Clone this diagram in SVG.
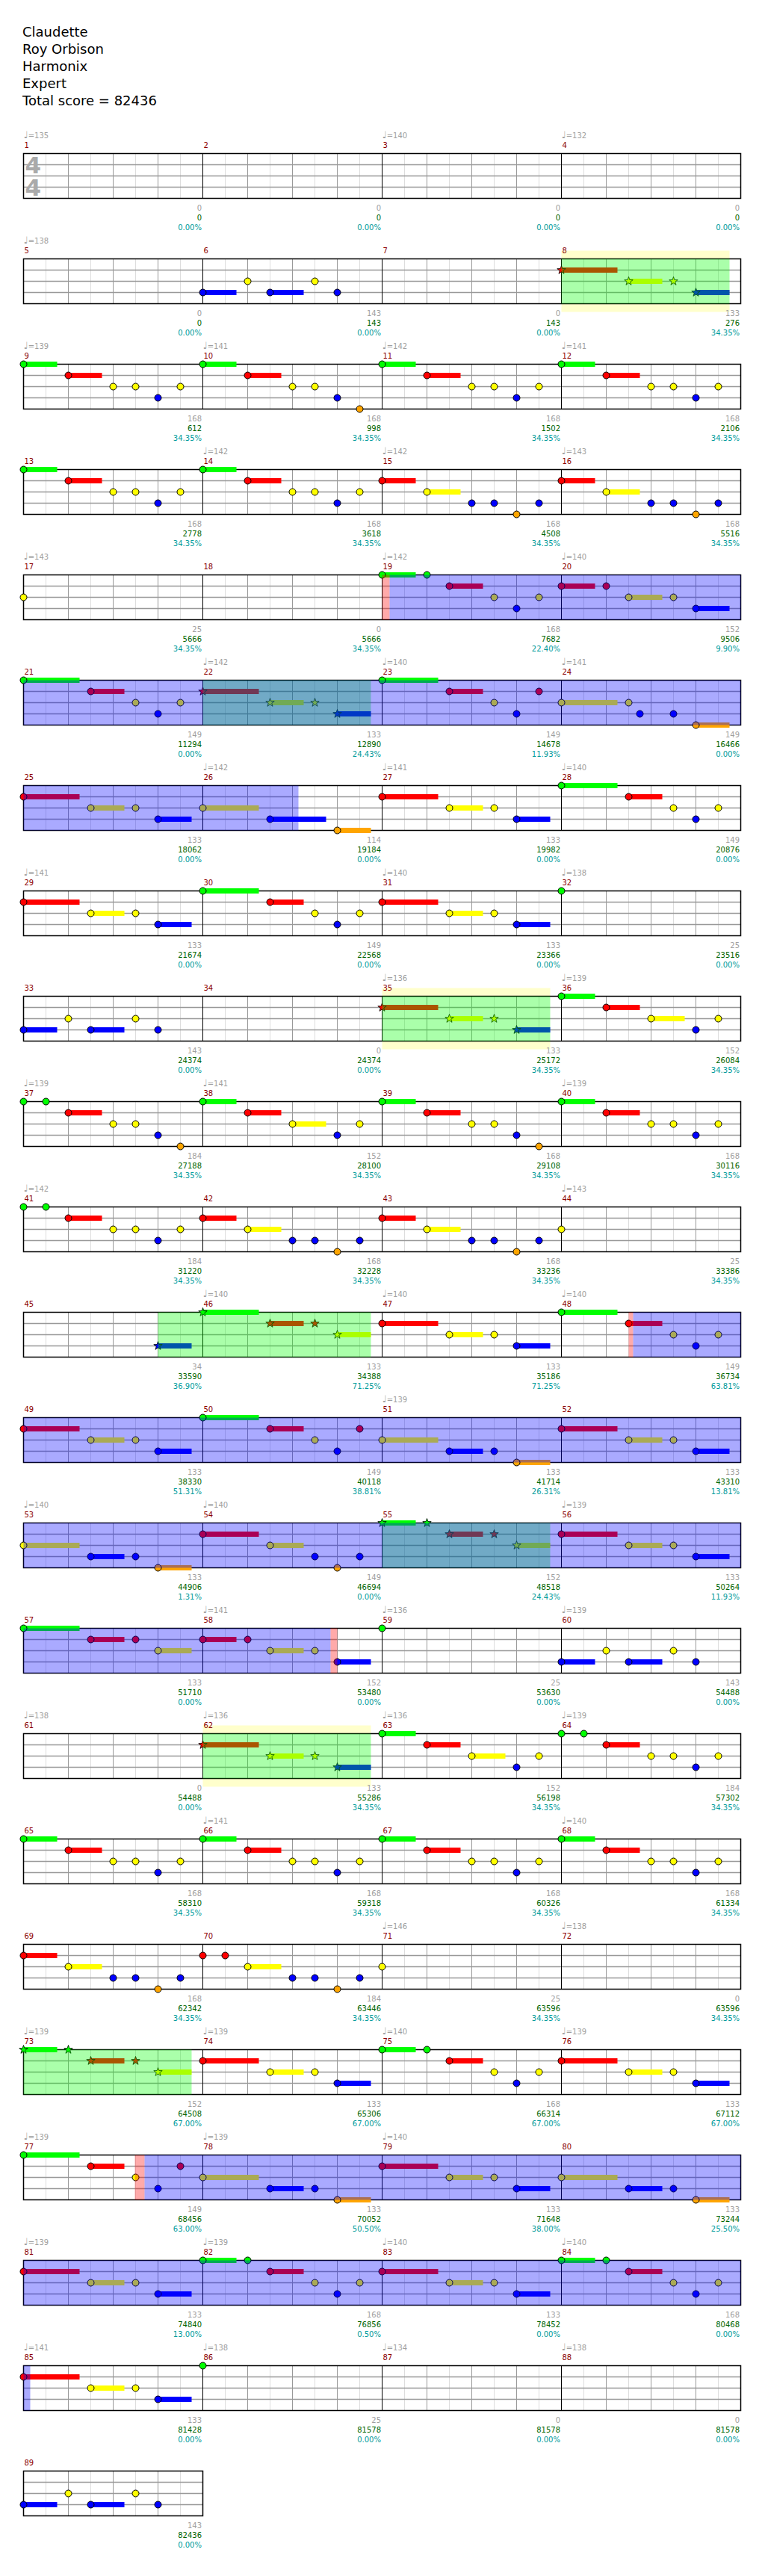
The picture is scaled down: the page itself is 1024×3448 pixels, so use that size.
<svg xmlns="http://www.w3.org/2000/svg" width="1024" height="3448" viewBox="0 0 1024 3448">
<style>
text{font-family:"DejaVu Sans","Liberation Sans",sans-serif}
.ti{font-size:18px;fill:#000}
.tp{font-size:10px;fill:#a0a0a0}
.q{font-size:13px}
.mn{font-size:10px;fill:#8b0000}
.a,.b,.c{font-size:10px;text-anchor:end}
.a{fill:#a0a0a0}.b{fill:#006400}.c{fill:#009b9b}
.ts{font-size:31px;font-weight:bold;fill:#aaa}
.G{fill:#00ff00}.R{fill:#ff0000}.Y{fill:#ffff00}.B{fill:#0000ff}.O{fill:#ffa500}
.ob{fill:#0000ff;fill-opacity:.333}.og{fill:#00ff00;fill-opacity:.333}.or{fill:#ff0000;fill-opacity:.333}
.band{fill:#ffffcc}
</style>
<defs>
<circle id="h" r="4.5" stroke="#000" stroke-width="1"/>
<polygon id="s" points="0,-6 1.41,-1.94 5.71,-1.85 2.28,0.74 3.53,4.85 0,2.4 -3.53,4.85 -2.28,0.74 -5.71,-1.85 -1.41,-1.94" stroke="#000" stroke-width="0.8"/>
<g id="st4">
<rect width="960" height="60" fill="#fff"/>
<path d="M30 0V60M90 0V60M150 0V60M210 0V60M270 0V60M330 0V60M390 0V60M450 0V60M510 0V60M570 0V60M630 0V60M690 0V60M750 0V60M810 0V60M870 0V60M930 0V60" stroke="#ddd"/>
<path d="M60 0V60M120 0V60M180 0V60M300 0V60M360 0V60M420 0V60M540 0V60M600 0V60M660 0V60M780 0V60M840 0V60M900 0V60" stroke="#999"/>
<path d="M0 15H960M0 30H960M0 45H960" stroke="#999" stroke-width="1.5"/>
<path d="M240 0V60M480 0V60M720 0V60" stroke="#000"/>
<rect width="960" height="60" fill="none" stroke="#000" stroke-width="1.5"/>
</g>
<g id="st1">
<rect width="240" height="60" fill="#fff"/>
<path d="M30 0V60M90 0V60M150 0V60M210 0V60" stroke="#ddd"/>
<path d="M60 0V60M120 0V60M180 0V60" stroke="#999"/>
<path d="M0 15H240M0 30H240M0 45H240" stroke="#999" stroke-width="1.5"/>
<rect width="240" height="60" fill="none" stroke="#000" stroke-width="1.5"/>
</g>
<g id="pA"><rect class="G" y="-3.5" width="45" height="7"/><rect class="R" x="60" y="11.5" width="45" height="7"/><use href="#h" class="G"/><use href="#h" class="R" x="60" y="15"/><use href="#h" class="Y" x="120" y="30"/><use href="#h" class="Y" x="150" y="30"/><use href="#h" class="B" x="180" y="45"/><use href="#h" class="Y" x="210" y="30"/></g>
<g id="pB"><rect class="G" y="-3.5" width="45" height="7"/><rect class="R" x="60" y="11.5" width="45" height="7"/><use href="#h" class="G"/><use href="#h" class="R" x="60" y="15"/><use href="#h" class="Y" x="120" y="30"/><use href="#h" class="Y" x="150" y="30"/><use href="#h" class="B" x="180" y="45"/><use href="#h" class="O" x="210" y="60"/></g>
<g id="pC"><rect class="R" y="11.5" width="45" height="7"/><rect class="Y" x="60" y="26.5" width="45" height="7"/><use href="#h" class="R" y="15"/><use href="#h" class="Y" x="60" y="30"/><use href="#h" class="B" x="120" y="45"/><use href="#h" class="B" x="150" y="45"/><use href="#h" class="O" x="180" y="60"/><use href="#h" class="B" x="210" y="45"/></g>
<g id="pD"><rect class="R" x="60" y="11.5" width="45" height="7"/><use href="#h" class="G"/><use href="#h" class="G" x="30"/><use href="#h" class="R" x="60" y="15"/><use href="#h" class="Y" x="120" y="30"/><use href="#h" class="Y" x="150" y="30"/><use href="#h" class="B" x="180" y="45"/><use href="#h" class="Y" x="210" y="30"/></g>
<g id="pD2"><rect class="R" x="60" y="11.5" width="45" height="7"/><use href="#h" class="G"/><use href="#h" class="G" x="30"/><use href="#h" class="R" x="60" y="15"/><use href="#h" class="Y" x="120" y="30"/><use href="#h" class="Y" x="150" y="30"/><use href="#h" class="B" x="180" y="45"/><use href="#h" class="O" x="210" y="60"/></g>
<g id="pE"><rect class="R" y="11.5" width="75" height="7"/><rect class="Y" x="90" y="26.5" width="45" height="7"/><rect class="B" x="180" y="41.5" width="45" height="7"/><use href="#h" class="R" y="15"/><use href="#h" class="Y" x="90" y="30"/><use href="#h" class="Y" x="150" y="30"/><use href="#h" class="B" x="180" y="45"/></g>
<g id="pF"><rect class="G" y="-3.5" width="75" height="7"/><rect class="R" x="90" y="11.5" width="45" height="7"/><use href="#h" class="G"/><use href="#h" class="R" x="90" y="15"/><use href="#h" class="Y" x="150" y="30"/><use href="#h" class="B" x="180" y="45"/><use href="#h" class="Y" x="210" y="30"/></g>
<g id="pF2"><rect class="G" y="-3.5" width="75" height="7"/><rect class="R" x="90" y="11.5" width="45" height="7"/><use href="#h" class="G"/><use href="#h" class="R" x="90" y="15"/><use href="#h" class="Y" x="150" y="30"/><use href="#h" class="B" x="180" y="45"/><use href="#h" class="R" x="210" y="15"/></g>
<g id="pH"><rect class="Y" y="26.5" width="75" height="7"/><rect class="B" x="90" y="41.5" width="45" height="7"/><rect class="O" x="180" y="56.5" width="45" height="7"/><use href="#h" class="Y" y="30"/><use href="#h" class="B" x="90" y="45"/><use href="#h" class="B" x="150" y="45"/><use href="#h" class="O" x="180" y="60"/></g>
<g id="pJ"><rect class="G" y="-3.5" width="45" height="7"/><rect class="R" x="90" y="11.5" width="45" height="7"/><use href="#h" class="G"/><use href="#h" class="G" x="60"/><use href="#h" class="R" x="90" y="15"/><use href="#h" class="Y" x="150" y="30"/><use href="#h" class="B" x="180" y="45"/><use href="#h" class="Y" x="210" y="30"/></g>
<g id="pL"><rect class="R" y="11.5" width="45" height="7"/><rect class="Y" x="90" y="26.5" width="45" height="7"/><rect class="B" x="180" y="41.5" width="45" height="7"/><use href="#h" class="R" y="15"/><use href="#h" class="R" x="60" y="15"/><use href="#h" class="Y" x="90" y="30"/><use href="#h" class="Y" x="150" y="30"/><use href="#h" class="B" x="180" y="45"/></g>
<g id="pM"><rect class="B" y="41.5" width="45" height="7"/><rect class="B" x="90" y="41.5" width="45" height="7"/><use href="#h" class="B" y="45"/><use href="#h" class="Y" x="60" y="30"/><use href="#h" class="B" x="90" y="45"/><use href="#h" class="Y" x="150" y="30"/><use href="#h" class="B" x="180" y="45"/></g>
<g id="pN"><rect class="G" y="-3.5" width="45" height="7"/><rect class="R" x="60" y="11.5" width="45" height="7"/><rect class="Y" x="120" y="26.5" width="45" height="7"/><use href="#h" class="G"/><use href="#h" class="R" x="60" y="15"/><use href="#h" class="Y" x="120" y="30"/><use href="#h" class="B" x="180" y="45"/><use href="#h" class="Y" x="210" y="30"/></g>
<g id="pS1"><rect class="R" y="11.5" width="75" height="7"/><rect class="Y" x="90" y="26.5" width="45" height="7"/><rect class="B" x="180" y="41.5" width="45" height="7"/><use href="#s" class="R" y="15"/><use href="#s" class="Y" x="90" y="30"/><use href="#s" class="Y" x="150" y="30"/><use href="#s" class="B" x="180" y="45"/></g>
<g id="pS2"><rect class="G" y="-3.5" width="45" height="7"/><rect class="R" x="90" y="11.5" width="45" height="7"/><rect class="Y" x="180" y="26.5" width="45" height="7"/><use href="#s" class="G"/><use href="#s" class="G" x="60"/><use href="#s" class="R" x="90" y="15"/><use href="#s" class="R" x="150" y="15"/><use href="#s" class="Y" x="180" y="30"/></g>
</defs>
<rect width="1024" height="3448" fill="#fff"/>
<g id="title">
<text class="ti" x="30" y="49">Claudette</text>
<text class="ti" x="30" y="72">Roy Orbison</text>
<text class="ti" x="30" y="95">Harmonix</text>
<text class="ti" x="30" y="118">Expert</text>
<text class="ti" x="30" y="141">Total score = 82436</text>
</g>

<g id="row1" transform="translate(0,205.5)">
<use href="#st4" x="31.5"/>
<g id="m1" transform="translate(31.5,0)"><text class="tp" y="-20.5"><tspan class="q">♩</tspan>=135</text><text class="mn" x="1" y="-8">1</text><text class="ts" x="2" y="26.5">4</text><text class="ts" x="2" y="56.5">4</text><text class="a" x="238.5" y="76.5">0</text><text class="b" x="238.5" y="89.5">0</text><text class="c" x="238.5" y="102.5">0.00%</text></g>
<g id="m2" transform="translate(271.5,0)"><text class="mn" x="1" y="-8">2</text><text class="a" x="238.5" y="76.5">0</text><text class="b" x="238.5" y="89.5">0</text><text class="c" x="238.5" y="102.5">0.00%</text></g>
<g id="m3" transform="translate(511.5,0)"><text class="tp" y="-20.5"><tspan class="q">♩</tspan>=140</text><text class="mn" x="1" y="-8">3</text><text class="a" x="238.5" y="76.5">0</text><text class="b" x="238.5" y="89.5">0</text><text class="c" x="238.5" y="102.5">0.00%</text></g>
<g id="m4" transform="translate(751.5,0)"><text class="tp" y="-20.5"><tspan class="q">♩</tspan>=132</text><text class="mn" x="1" y="-8">4</text><text class="a" x="238.5" y="76.5">0</text><text class="b" x="238.5" y="89.5">0</text><text class="c" x="238.5" y="102.5">0.00%</text></g>
</g>

<g id="row2" transform="translate(0,346.5)">
<rect class="band" x="751.5" y="-11" width="225" height="82"/>
<use href="#st4" x="31.5"/>
<g id="m5" transform="translate(31.5,0)"><text class="tp" y="-20.5"><tspan class="q">♩</tspan>=138</text><text class="mn" x="1" y="-8">5</text><text class="a" x="238.5" y="76.5">0</text><text class="b" x="238.5" y="89.5">0</text><text class="c" x="238.5" y="102.5">0.00%</text></g>
<g id="m6" transform="translate(271.5,0)"><text class="mn" x="1" y="-8">6</text><use href="#pM"/><text class="a" x="238.5" y="76.5">143</text><text class="b" x="238.5" y="89.5">143</text><text class="c" x="238.5" y="102.5">0.00%</text></g>
<g id="m7" transform="translate(511.5,0)"><text class="mn" x="1" y="-8">7</text><text class="a" x="238.5" y="76.5">0</text><text class="b" x="238.5" y="89.5">143</text><text class="c" x="238.5" y="102.5">0.00%</text></g>
<g id="m8" transform="translate(751.5,0)"><text class="mn" x="1" y="-8">8</text><use href="#pS1"/><text class="a" x="238.5" y="76.5">133</text><text class="b" x="238.5" y="89.5">276</text><text class="c" x="238.5" y="102.5">34.35%</text></g>
<g class="ov"><rect class="og" x="751.5" width="225" height="60"/></g>
</g>

<g id="row3" transform="translate(0,487.5)">
<use href="#st4" x="31.5"/>
<g id="m9" transform="translate(31.5,0)"><text class="tp" y="-20.5"><tspan class="q">♩</tspan>=139</text><text class="mn" x="1" y="-8">9</text><use href="#pA"/><text class="a" x="238.5" y="76.5">168</text><text class="b" x="238.5" y="89.5">612</text><text class="c" x="238.5" y="102.5">34.35%</text></g>
<g id="m10" transform="translate(271.5,0)"><text class="tp" y="-20.5"><tspan class="q">♩</tspan>=141</text><text class="mn" x="1" y="-8">10</text><use href="#pB"/><text class="a" x="238.5" y="76.5">168</text><text class="b" x="238.5" y="89.5">998</text><text class="c" x="238.5" y="102.5">34.35%</text></g>
<g id="m11" transform="translate(511.5,0)"><text class="tp" y="-20.5"><tspan class="q">♩</tspan>=142</text><text class="mn" x="1" y="-8">11</text><use href="#pA"/><text class="a" x="238.5" y="76.5">168</text><text class="b" x="238.5" y="89.5">1502</text><text class="c" x="238.5" y="102.5">34.35%</text></g>
<g id="m12" transform="translate(751.5,0)"><text class="tp" y="-20.5"><tspan class="q">♩</tspan>=141</text><text class="mn" x="1" y="-8">12</text><use href="#pA"/><text class="a" x="238.5" y="76.5">168</text><text class="b" x="238.5" y="89.5">2106</text><text class="c" x="238.5" y="102.5">34.35%</text></g>
</g>

<g id="row4" transform="translate(0,628.5)">
<use href="#st4" x="31.5"/>
<g id="m13" transform="translate(31.5,0)"><text class="mn" x="1" y="-8">13</text><use href="#pA"/><text class="a" x="238.5" y="76.5">168</text><text class="b" x="238.5" y="89.5">2778</text><text class="c" x="238.5" y="102.5">34.35%</text></g>
<g id="m14" transform="translate(271.5,0)"><text class="tp" y="-20.5"><tspan class="q">♩</tspan>=142</text><text class="mn" x="1" y="-8">14</text><use href="#pA"/><text class="a" x="238.5" y="76.5">168</text><text class="b" x="238.5" y="89.5">3618</text><text class="c" x="238.5" y="102.5">34.35%</text></g>
<g id="m15" transform="translate(511.5,0)"><text class="tp" y="-20.5"><tspan class="q">♩</tspan>=142</text><text class="mn" x="1" y="-8">15</text><use href="#pC"/><text class="a" x="238.5" y="76.5">168</text><text class="b" x="238.5" y="89.5">4508</text><text class="c" x="238.5" y="102.5">34.35%</text></g>
<g id="m16" transform="translate(751.5,0)"><text class="tp" y="-20.5"><tspan class="q">♩</tspan>=143</text><text class="mn" x="1" y="-8">16</text><use href="#pC"/><text class="a" x="238.5" y="76.5">168</text><text class="b" x="238.5" y="89.5">5516</text><text class="c" x="238.5" y="102.5">34.35%</text></g>
</g>

<g id="row5" transform="translate(0,769.5)">
<use href="#st4" x="31.5"/>
<g id="m17" transform="translate(31.5,0)"><text class="tp" y="-20.5"><tspan class="q">♩</tspan>=143</text><text class="mn" x="1" y="-8">17</text><use href="#h" class="Y" y="30"/><text class="a" x="238.5" y="76.5">25</text><text class="b" x="238.5" y="89.5">5666</text><text class="c" x="238.5" y="102.5">34.35%</text></g>
<g id="m18" transform="translate(271.5,0)"><text class="mn" x="1" y="-8">18</text><text class="a" x="238.5" y="76.5">0</text><text class="b" x="238.5" y="89.5">5666</text><text class="c" x="238.5" y="102.5">34.35%</text></g>
<g id="m19" transform="translate(511.5,0)"><text class="tp" y="-20.5"><tspan class="q">♩</tspan>=142</text><text class="mn" x="1" y="-8">19</text><use href="#pJ"/><text class="a" x="238.5" y="76.5">168</text><text class="b" x="238.5" y="89.5">7682</text><text class="c" x="238.5" y="102.5">22.40%</text></g>
<g id="m20" transform="translate(751.5,0)"><text class="tp" y="-20.5"><tspan class="q">♩</tspan>=140</text><text class="mn" x="1" y="-8">20</text><use href="#pL"/><text class="a" x="238.5" y="76.5">152</text><text class="b" x="238.5" y="89.5">9506</text><text class="c" x="238.5" y="102.5">9.90%</text></g>
<g class="ov"><rect class="or" x="511.5" width="10" height="60"/><rect class="ob" x="521.5" width="470" height="60"/></g>
</g>

<g id="row6" transform="translate(0,910.5)">
<use href="#st4" x="31.5"/>
<g id="m21" transform="translate(31.5,0)"><text class="mn" x="1" y="-8">21</text><use href="#pF"/><text class="a" x="238.5" y="76.5">149</text><text class="b" x="238.5" y="89.5">11294</text><text class="c" x="238.5" y="102.5">0.00%</text></g>
<g id="m22" transform="translate(271.5,0)"><text class="tp" y="-20.5"><tspan class="q">♩</tspan>=142</text><text class="mn" x="1" y="-8">22</text><use href="#pS1"/><text class="a" x="238.5" y="76.5">133</text><text class="b" x="238.5" y="89.5">12890</text><text class="c" x="238.5" y="102.5">24.43%</text></g>
<g id="m23" transform="translate(511.5,0)"><text class="tp" y="-20.5"><tspan class="q">♩</tspan>=140</text><text class="mn" x="1" y="-8">23</text><use href="#pF2"/><text class="a" x="238.5" y="76.5">149</text><text class="b" x="238.5" y="89.5">14678</text><text class="c" x="238.5" y="102.5">11.93%</text></g>
<g id="m24" transform="translate(751.5,0)"><text class="tp" y="-20.5"><tspan class="q">♩</tspan>=141</text><text class="mn" x="1" y="-8">24</text><rect class="Y" y="26.5" width="75" height="7"/><rect class="O" x="180" y="56.5" width="45" height="7"/><use href="#h" class="Y" y="30"/><use href="#h" class="Y" x="90" y="30"/><use href="#h" class="B" x="105" y="45"/><use href="#h" class="B" x="150" y="45"/><use href="#h" class="O" x="180" y="60"/><text class="a" x="238.5" y="76.5">149</text><text class="b" x="238.5" y="89.5">16466</text><text class="c" x="238.5" y="102.5">0.00%</text></g>
<g class="ov"><rect class="og" x="271.5" width="225" height="60"/><rect class="ob" x="31.5" width="960" height="60"/></g>
</g>

<g id="row7" transform="translate(0,1051.5)">
<use href="#st4" x="31.5"/>
<g id="m25" transform="translate(31.5,0)"><text class="mn" x="1" y="-8">25</text><use href="#pE"/><text class="a" x="238.5" y="76.5">133</text><text class="b" x="238.5" y="89.5">18062</text><text class="c" x="238.5" y="102.5">0.00%</text></g>
<g id="m26" transform="translate(271.5,0)"><text class="tp" y="-20.5"><tspan class="q">♩</tspan>=142</text><text class="mn" x="1" y="-8">26</text><rect class="Y" y="26.5" width="75" height="7"/><rect class="B" x="90" y="41.5" width="75" height="7"/><rect class="O" x="180" y="56.5" width="45" height="7"/><use href="#h" class="Y" y="30"/><use href="#h" class="B" x="90" y="45"/><use href="#h" class="O" x="180" y="60"/><text class="a" x="238.5" y="76.5">114</text><text class="b" x="238.5" y="89.5">19184</text><text class="c" x="238.5" y="102.5">0.00%</text></g>
<g id="m27" transform="translate(511.5,0)"><text class="tp" y="-20.5"><tspan class="q">♩</tspan>=141</text><text class="mn" x="1" y="-8">27</text><use href="#pE"/><text class="a" x="238.5" y="76.5">133</text><text class="b" x="238.5" y="89.5">19982</text><text class="c" x="238.5" y="102.5">0.00%</text></g>
<g id="m28" transform="translate(751.5,0)"><text class="tp" y="-20.5"><tspan class="q">♩</tspan>=140</text><text class="mn" x="1" y="-8">28</text><use href="#pF"/><text class="a" x="238.5" y="76.5">149</text><text class="b" x="238.5" y="89.5">20876</text><text class="c" x="238.5" y="102.5">0.00%</text></g>
<g class="ov"><rect class="ob" x="31.5" width="368" height="60"/></g>
</g>

<g id="row8" transform="translate(0,1192.5)">
<use href="#st4" x="31.5"/>
<g id="m29" transform="translate(31.5,0)"><text class="tp" y="-20.5"><tspan class="q">♩</tspan>=141</text><text class="mn" x="1" y="-8">29</text><use href="#pE"/><text class="a" x="238.5" y="76.5">133</text><text class="b" x="238.5" y="89.5">21674</text><text class="c" x="238.5" y="102.5">0.00%</text></g>
<g id="m30" transform="translate(271.5,0)"><text class="mn" x="1" y="-8">30</text><use href="#pF"/><text class="a" x="238.5" y="76.5">149</text><text class="b" x="238.5" y="89.5">22568</text><text class="c" x="238.5" y="102.5">0.00%</text></g>
<g id="m31" transform="translate(511.5,0)"><text class="tp" y="-20.5"><tspan class="q">♩</tspan>=140</text><text class="mn" x="1" y="-8">31</text><use href="#pE"/><text class="a" x="238.5" y="76.5">133</text><text class="b" x="238.5" y="89.5">23366</text><text class="c" x="238.5" y="102.5">0.00%</text></g>
<g id="m32" transform="translate(751.5,0)"><text class="tp" y="-20.5"><tspan class="q">♩</tspan>=138</text><text class="mn" x="1" y="-8">32</text><use href="#h" class="G"/><text class="a" x="238.5" y="76.5">25</text><text class="b" x="238.5" y="89.5">23516</text><text class="c" x="238.5" y="102.5">0.00%</text></g>
</g>

<g id="row9" transform="translate(0,1333.5)">
<rect class="band" x="511.5" y="-11" width="225" height="82"/>
<use href="#st4" x="31.5"/>
<g id="m33" transform="translate(31.5,0)"><text class="mn" x="1" y="-8">33</text><use href="#pM"/><text class="a" x="238.5" y="76.5">143</text><text class="b" x="238.5" y="89.5">24374</text><text class="c" x="238.5" y="102.5">0.00%</text></g>
<g id="m34" transform="translate(271.5,0)"><text class="mn" x="1" y="-8">34</text><text class="a" x="238.5" y="76.5">0</text><text class="b" x="238.5" y="89.5">24374</text><text class="c" x="238.5" y="102.5">0.00%</text></g>
<g id="m35" transform="translate(511.5,0)"><text class="tp" y="-20.5"><tspan class="q">♩</tspan>=136</text><text class="mn" x="1" y="-8">35</text><use href="#pS1"/><text class="a" x="238.5" y="76.5">133</text><text class="b" x="238.5" y="89.5">25172</text><text class="c" x="238.5" y="102.5">34.35%</text></g>
<g id="m36" transform="translate(751.5,0)"><text class="tp" y="-20.5"><tspan class="q">♩</tspan>=139</text><text class="mn" x="1" y="-8">36</text><use href="#pN"/><text class="a" x="238.5" y="76.5">152</text><text class="b" x="238.5" y="89.5">26084</text><text class="c" x="238.5" y="102.5">34.35%</text></g>
<g class="ov"><rect class="og" x="511.5" width="225" height="60"/></g>
</g>

<g id="row10" transform="translate(0,1474.5)">
<use href="#st4" x="31.5"/>
<g id="m37" transform="translate(31.5,0)"><text class="tp" y="-20.5"><tspan class="q">♩</tspan>=139</text><text class="mn" x="1" y="-8">37</text><use href="#pD2"/><text class="a" x="238.5" y="76.5">184</text><text class="b" x="238.5" y="89.5">27188</text><text class="c" x="238.5" y="102.5">34.35%</text></g>
<g id="m38" transform="translate(271.5,0)"><text class="tp" y="-20.5"><tspan class="q">♩</tspan>=141</text><text class="mn" x="1" y="-8">38</text><use href="#pN"/><text class="a" x="238.5" y="76.5">152</text><text class="b" x="238.5" y="89.5">28100</text><text class="c" x="238.5" y="102.5">34.35%</text></g>
<g id="m39" transform="translate(511.5,0)"><text class="mn" x="1" y="-8">39</text><use href="#pB"/><text class="a" x="238.5" y="76.5">168</text><text class="b" x="238.5" y="89.5">29108</text><text class="c" x="238.5" y="102.5">34.35%</text></g>
<g id="m40" transform="translate(751.5,0)"><text class="tp" y="-20.5"><tspan class="q">♩</tspan>=139</text><text class="mn" x="1" y="-8">40</text><use href="#pA"/><text class="a" x="238.5" y="76.5">168</text><text class="b" x="238.5" y="89.5">30116</text><text class="c" x="238.5" y="102.5">34.35%</text></g>
</g>

<g id="row11" transform="translate(0,1615.5)">
<use href="#st4" x="31.5"/>
<g id="m41" transform="translate(31.5,0)"><text class="tp" y="-20.5"><tspan class="q">♩</tspan>=142</text><text class="mn" x="1" y="-8">41</text><use href="#pD"/><text class="a" x="238.5" y="76.5">184</text><text class="b" x="238.5" y="89.5">31220</text><text class="c" x="238.5" y="102.5">34.35%</text></g>
<g id="m42" transform="translate(271.5,0)"><text class="mn" x="1" y="-8">42</text><use href="#pC"/><text class="a" x="238.5" y="76.5">168</text><text class="b" x="238.5" y="89.5">32228</text><text class="c" x="238.5" y="102.5">34.35%</text></g>
<g id="m43" transform="translate(511.5,0)"><text class="mn" x="1" y="-8">43</text><use href="#pC"/><text class="a" x="238.5" y="76.5">168</text><text class="b" x="238.5" y="89.5">33236</text><text class="c" x="238.5" y="102.5">34.35%</text></g>
<g id="m44" transform="translate(751.5,0)"><text class="tp" y="-20.5"><tspan class="q">♩</tspan>=143</text><text class="mn" x="1" y="-8">44</text><use href="#h" class="Y" y="30"/><text class="a" x="238.5" y="76.5">25</text><text class="b" x="238.5" y="89.5">33386</text><text class="c" x="238.5" y="102.5">34.35%</text></g>
</g>

<g id="row12" transform="translate(0,1756.5)">
<use href="#st4" x="31.5"/>
<g id="m45" transform="translate(31.5,0)"><text class="mn" x="1" y="-8">45</text><rect class="B" x="180" y="41.5" width="45" height="7"/><use href="#s" class="B" x="180" y="45"/><text class="a" x="238.5" y="76.5">34</text><text class="b" x="238.5" y="89.5">33590</text><text class="c" x="238.5" y="102.5">36.90%</text></g>
<g id="m46" transform="translate(271.5,0)"><text class="tp" y="-20.5"><tspan class="q">♩</tspan>=140</text><text class="mn" x="1" y="-8">46</text><rect class="G" y="-3.5" width="75" height="7"/><rect class="R" x="90" y="11.5" width="45" height="7"/><rect class="Y" x="180" y="26.5" width="45" height="7"/><use href="#s" class="G"/><use href="#s" class="R" x="90" y="15"/><use href="#s" class="R" x="150" y="15"/><use href="#s" class="Y" x="180" y="30"/><text class="a" x="238.5" y="76.5">133</text><text class="b" x="238.5" y="89.5">34388</text><text class="c" x="238.5" y="102.5">71.25%</text></g>
<g id="m47" transform="translate(511.5,0)"><text class="tp" y="-20.5"><tspan class="q">♩</tspan>=140</text><text class="mn" x="1" y="-8">47</text><use href="#pE"/><text class="a" x="238.5" y="76.5">133</text><text class="b" x="238.5" y="89.5">35186</text><text class="c" x="238.5" y="102.5">71.25%</text></g>
<g id="m48" transform="translate(751.5,0)"><text class="tp" y="-20.5"><tspan class="q">♩</tspan>=140</text><text class="mn" x="1" y="-8">48</text><use href="#pF"/><text class="a" x="238.5" y="76.5">149</text><text class="b" x="238.5" y="89.5">36734</text><text class="c" x="238.5" y="102.5">63.81%</text></g>
<g class="ov"><rect class="og" x="211.5" width="285" height="60"/><rect class="or" x="841.5" width="6" height="60"/><rect class="ob" x="847.5" width="144" height="60"/></g>
</g>

<g id="row13" transform="translate(0,1897.5)">
<use href="#st4" x="31.5"/>
<g id="m49" transform="translate(31.5,0)"><text class="mn" x="1" y="-8">49</text><use href="#pE"/><text class="a" x="238.5" y="76.5">133</text><text class="b" x="238.5" y="89.5">38330</text><text class="c" x="238.5" y="102.5">51.31%</text></g>
<g id="m50" transform="translate(271.5,0)"><text class="mn" x="1" y="-8">50</text><use href="#pF2"/><text class="a" x="238.5" y="76.5">149</text><text class="b" x="238.5" y="89.5">40118</text><text class="c" x="238.5" y="102.5">38.81%</text></g>
<g id="m51" transform="translate(511.5,0)"><text class="tp" y="-20.5"><tspan class="q">♩</tspan>=139</text><text class="mn" x="1" y="-8">51</text><use href="#pH"/><text class="a" x="238.5" y="76.5">133</text><text class="b" x="238.5" y="89.5">41714</text><text class="c" x="238.5" y="102.5">26.31%</text></g>
<g id="m52" transform="translate(751.5,0)"><text class="mn" x="1" y="-8">52</text><use href="#pE"/><text class="a" x="238.5" y="76.5">133</text><text class="b" x="238.5" y="89.5">43310</text><text class="c" x="238.5" y="102.5">13.81%</text></g>
<g class="ov"><rect class="ob" x="31.5" width="960" height="60"/></g>
</g>

<g id="row14" transform="translate(0,2038.5)">
<use href="#st4" x="31.5"/>
<g id="m53" transform="translate(31.5,0)"><text class="tp" y="-20.5"><tspan class="q">♩</tspan>=140</text><text class="mn" x="1" y="-8">53</text><use href="#pH"/><text class="a" x="238.5" y="76.5">133</text><text class="b" x="238.5" y="89.5">44906</text><text class="c" x="238.5" y="102.5">1.31%</text></g>
<g id="m54" transform="translate(271.5,0)"><text class="tp" y="-20.5"><tspan class="q">♩</tspan>=140</text><text class="mn" x="1" y="-8">54</text><rect class="R" y="11.5" width="75" height="7"/><rect class="Y" x="90" y="26.5" width="45" height="7"/><use href="#h" class="R" y="15"/><use href="#h" class="Y" x="90" y="30"/><use href="#h" class="B" x="150" y="45"/><use href="#h" class="O" x="180" y="60"/><use href="#h" class="B" x="210" y="45"/><text class="a" x="238.5" y="76.5">149</text><text class="b" x="238.5" y="89.5">46694</text><text class="c" x="238.5" y="102.5">0.00%</text></g>
<g id="m55" transform="translate(511.5,0)"><text class="mn" x="1" y="-8">55</text><use href="#pS2"/><text class="a" x="238.5" y="76.5">152</text><text class="b" x="238.5" y="89.5">48518</text><text class="c" x="238.5" y="102.5">24.43%</text></g>
<g id="m56" transform="translate(751.5,0)"><text class="tp" y="-20.5"><tspan class="q">♩</tspan>=139</text><text class="mn" x="1" y="-8">56</text><use href="#pE"/><text class="a" x="238.5" y="76.5">133</text><text class="b" x="238.5" y="89.5">50264</text><text class="c" x="238.5" y="102.5">11.93%</text></g>
<g class="ov"><rect class="og" x="511.5" width="225" height="60"/><rect class="ob" x="31.5" width="960" height="60"/></g>
</g>

<g id="row15" transform="translate(0,2179.5)">
<use href="#st4" x="31.5"/>
<g id="m57" transform="translate(31.5,0)"><text class="mn" x="1" y="-8">57</text><rect class="G" y="-3.5" width="75" height="7"/><rect class="R" x="90" y="11.5" width="45" height="7"/><rect class="Y" x="180" y="26.5" width="45" height="7"/><use href="#h" class="G"/><use href="#h" class="R" x="90" y="15"/><use href="#h" class="R" x="150" y="15"/><use href="#h" class="Y" x="180" y="30"/><text class="a" x="238.5" y="76.5">133</text><text class="b" x="238.5" y="89.5">51710</text><text class="c" x="238.5" y="102.5">0.00%</text></g>
<g id="m58" transform="translate(271.5,0)"><text class="tp" y="-20.5"><tspan class="q">♩</tspan>=141</text><text class="mn" x="1" y="-8">58</text><use href="#pL"/><text class="a" x="238.5" y="76.5">152</text><text class="b" x="238.5" y="89.5">53480</text><text class="c" x="238.5" y="102.5">0.00%</text></g>
<g id="m59" transform="translate(511.5,0)"><text class="tp" y="-20.5"><tspan class="q">♩</tspan>=136</text><text class="mn" x="1" y="-8">59</text><use href="#h" class="G"/><text class="a" x="238.5" y="76.5">25</text><text class="b" x="238.5" y="89.5">53630</text><text class="c" x="238.5" y="102.5">0.00%</text></g>
<g id="m60" transform="translate(751.5,0)"><text class="tp" y="-20.5"><tspan class="q">♩</tspan>=139</text><text class="mn" x="1" y="-8">60</text><use href="#pM"/><text class="a" x="238.5" y="76.5">143</text><text class="b" x="238.5" y="89.5">54488</text><text class="c" x="238.5" y="102.5">0.00%</text></g>
<g class="ov"><rect class="ob" x="31.5" width="411" height="60"/><rect class="or" x="442.5" width="9" height="60"/></g>
</g>

<g id="row16" transform="translate(0,2320.5)">
<rect class="band" x="271.5" y="-11" width="225" height="82"/>
<use href="#st4" x="31.5"/>
<g id="m61" transform="translate(31.5,0)"><text class="tp" y="-20.5"><tspan class="q">♩</tspan>=138</text><text class="mn" x="1" y="-8">61</text><text class="a" x="238.5" y="76.5">0</text><text class="b" x="238.5" y="89.5">54488</text><text class="c" x="238.5" y="102.5">0.00%</text></g>
<g id="m62" transform="translate(271.5,0)"><text class="tp" y="-20.5"><tspan class="q">♩</tspan>=136</text><text class="mn" x="1" y="-8">62</text><use href="#pS1"/><text class="a" x="238.5" y="76.5">133</text><text class="b" x="238.5" y="89.5">55286</text><text class="c" x="238.5" y="102.5">34.35%</text></g>
<g id="m63" transform="translate(511.5,0)"><text class="tp" y="-20.5"><tspan class="q">♩</tspan>=136</text><text class="mn" x="1" y="-8">63</text><use href="#pN"/><text class="a" x="238.5" y="76.5">152</text><text class="b" x="238.5" y="89.5">56198</text><text class="c" x="238.5" y="102.5">34.35%</text></g>
<g id="m64" transform="translate(751.5,0)"><text class="tp" y="-20.5"><tspan class="q">♩</tspan>=139</text><text class="mn" x="1" y="-8">64</text><use href="#pD"/><text class="a" x="238.5" y="76.5">184</text><text class="b" x="238.5" y="89.5">57302</text><text class="c" x="238.5" y="102.5">34.35%</text></g>
<g class="ov"><rect class="og" x="271.5" width="225" height="60"/></g>
</g>

<g id="row17" transform="translate(0,2461.5)">
<use href="#st4" x="31.5"/>
<g id="m65" transform="translate(31.5,0)"><text class="mn" x="1" y="-8">65</text><use href="#pA"/><text class="a" x="238.5" y="76.5">168</text><text class="b" x="238.5" y="89.5">58310</text><text class="c" x="238.5" y="102.5">34.35%</text></g>
<g id="m66" transform="translate(271.5,0)"><text class="tp" y="-20.5"><tspan class="q">♩</tspan>=141</text><text class="mn" x="1" y="-8">66</text><use href="#pA"/><text class="a" x="238.5" y="76.5">168</text><text class="b" x="238.5" y="89.5">59318</text><text class="c" x="238.5" y="102.5">34.35%</text></g>
<g id="m67" transform="translate(511.5,0)"><text class="mn" x="1" y="-8">67</text><use href="#pA"/><text class="a" x="238.5" y="76.5">168</text><text class="b" x="238.5" y="89.5">60326</text><text class="c" x="238.5" y="102.5">34.35%</text></g>
<g id="m68" transform="translate(751.5,0)"><text class="tp" y="-20.5"><tspan class="q">♩</tspan>=140</text><text class="mn" x="1" y="-8">68</text><use href="#pA"/><text class="a" x="238.5" y="76.5">168</text><text class="b" x="238.5" y="89.5">61334</text><text class="c" x="238.5" y="102.5">34.35%</text></g>
</g>

<g id="row18" transform="translate(0,2602.5)">
<use href="#st4" x="31.5"/>
<g id="m69" transform="translate(31.5,0)"><text class="mn" x="1" y="-8">69</text><use href="#pC"/><text class="a" x="238.5" y="76.5">168</text><text class="b" x="238.5" y="89.5">62342</text><text class="c" x="238.5" y="102.5">34.35%</text></g>
<g id="m70" transform="translate(271.5,0)"><text class="mn" x="1" y="-8">70</text><rect class="Y" x="60" y="26.5" width="45" height="7"/><use href="#h" class="R" y="15"/><use href="#h" class="R" x="30" y="15"/><use href="#h" class="Y" x="60" y="30"/><use href="#h" class="B" x="120" y="45"/><use href="#h" class="B" x="150" y="45"/><use href="#h" class="O" x="180" y="60"/><use href="#h" class="B" x="210" y="45"/><text class="a" x="238.5" y="76.5">184</text><text class="b" x="238.5" y="89.5">63446</text><text class="c" x="238.5" y="102.5">34.35%</text></g>
<g id="m71" transform="translate(511.5,0)"><text class="tp" y="-20.5"><tspan class="q">♩</tspan>=146</text><text class="mn" x="1" y="-8">71</text><use href="#h" class="Y" y="30"/><text class="a" x="238.5" y="76.5">25</text><text class="b" x="238.5" y="89.5">63596</text><text class="c" x="238.5" y="102.5">34.35%</text></g>
<g id="m72" transform="translate(751.5,0)"><text class="tp" y="-20.5"><tspan class="q">♩</tspan>=138</text><text class="mn" x="1" y="-8">72</text><text class="a" x="238.5" y="76.5">0</text><text class="b" x="238.5" y="89.5">63596</text><text class="c" x="238.5" y="102.5">34.35%</text></g>
</g>

<g id="row19" transform="translate(0,2743.5)">
<use href="#st4" x="31.5"/>
<g id="m73" transform="translate(31.5,0)"><text class="tp" y="-20.5"><tspan class="q">♩</tspan>=139</text><text class="mn" x="1" y="-8">73</text><use href="#pS2"/><text class="a" x="238.5" y="76.5">152</text><text class="b" x="238.5" y="89.5">64508</text><text class="c" x="238.5" y="102.5">67.00%</text></g>
<g id="m74" transform="translate(271.5,0)"><text class="tp" y="-20.5"><tspan class="q">♩</tspan>=139</text><text class="mn" x="1" y="-8">74</text><use href="#pE"/><text class="a" x="238.5" y="76.5">133</text><text class="b" x="238.5" y="89.5">65306</text><text class="c" x="238.5" y="102.5">67.00%</text></g>
<g id="m75" transform="translate(511.5,0)"><text class="tp" y="-20.5"><tspan class="q">♩</tspan>=140</text><text class="mn" x="1" y="-8">75</text><use href="#pJ"/><text class="a" x="238.5" y="76.5">168</text><text class="b" x="238.5" y="89.5">66314</text><text class="c" x="238.5" y="102.5">67.00%</text></g>
<g id="m76" transform="translate(751.5,0)"><text class="tp" y="-20.5"><tspan class="q">♩</tspan>=139</text><text class="mn" x="1" y="-8">76</text><use href="#pE"/><text class="a" x="238.5" y="76.5">133</text><text class="b" x="238.5" y="89.5">67112</text><text class="c" x="238.5" y="102.5">67.00%</text></g>
<g class="ov"><rect class="og" x="31.5" width="225" height="60"/></g>
</g>

<g id="row20" transform="translate(0,2884.5)">
<use href="#st4" x="31.5"/>
<g id="m77" transform="translate(31.5,0)"><text class="tp" y="-20.5"><tspan class="q">♩</tspan>=139</text><text class="mn" x="1" y="-8">77</text><use href="#pF2"/><text class="a" x="238.5" y="76.5">149</text><text class="b" x="238.5" y="89.5">68456</text><text class="c" x="238.5" y="102.5">63.00%</text></g>
<g id="m78" transform="translate(271.5,0)"><text class="tp" y="-20.5"><tspan class="q">♩</tspan>=139</text><text class="mn" x="1" y="-8">78</text><use href="#pH"/><text class="a" x="238.5" y="76.5">133</text><text class="b" x="238.5" y="89.5">70052</text><text class="c" x="238.5" y="102.5">50.50%</text></g>
<g id="m79" transform="translate(511.5,0)"><text class="tp" y="-20.5"><tspan class="q">♩</tspan>=140</text><text class="mn" x="1" y="-8">79</text><use href="#pE"/><text class="a" x="238.5" y="76.5">133</text><text class="b" x="238.5" y="89.5">71648</text><text class="c" x="238.5" y="102.5">38.00%</text></g>
<g id="m80" transform="translate(751.5,0)"><text class="mn" x="1" y="-8">80</text><use href="#pH"/><text class="a" x="238.5" y="76.5">133</text><text class="b" x="238.5" y="89.5">73244</text><text class="c" x="238.5" y="102.5">25.50%</text></g>
<g class="ov"><rect class="or" x="180.5" width="13" height="60"/><rect class="ob" x="193.5" width="798" height="60"/></g>
</g>

<g id="row21" transform="translate(0,3025.5)">
<use href="#st4" x="31.5"/>
<g id="m81" transform="translate(31.5,0)"><text class="tp" y="-20.5"><tspan class="q">♩</tspan>=139</text><text class="mn" x="1" y="-8">81</text><use href="#pE"/><text class="a" x="238.5" y="76.5">133</text><text class="b" x="238.5" y="89.5">74840</text><text class="c" x="238.5" y="102.5">13.00%</text></g>
<g id="m82" transform="translate(271.5,0)"><text class="tp" y="-20.5"><tspan class="q">♩</tspan>=139</text><text class="mn" x="1" y="-8">82</text><use href="#pJ"/><text class="a" x="238.5" y="76.5">168</text><text class="b" x="238.5" y="89.5">76856</text><text class="c" x="238.5" y="102.5">0.50%</text></g>
<g id="m83" transform="translate(511.5,0)"><text class="tp" y="-20.5"><tspan class="q">♩</tspan>=140</text><text class="mn" x="1" y="-8">83</text><use href="#pE"/><text class="a" x="238.5" y="76.5">133</text><text class="b" x="238.5" y="89.5">78452</text><text class="c" x="238.5" y="102.5">0.00%</text></g>
<g id="m84" transform="translate(751.5,0)"><text class="tp" y="-20.5"><tspan class="q">♩</tspan>=140</text><text class="mn" x="1" y="-8">84</text><use href="#pJ"/><text class="a" x="238.5" y="76.5">168</text><text class="b" x="238.5" y="89.5">80468</text><text class="c" x="238.5" y="102.5">0.00%</text></g>
<g class="ov"><rect class="ob" x="31.5" width="960" height="60"/></g>
</g>

<g id="row22" transform="translate(0,3166.5)">
<use href="#st4" x="31.5"/>
<g id="m85" transform="translate(31.5,0)"><text class="tp" y="-20.5"><tspan class="q">♩</tspan>=141</text><text class="mn" x="1" y="-8">85</text><use href="#pE"/><text class="a" x="238.5" y="76.5">133</text><text class="b" x="238.5" y="89.5">81428</text><text class="c" x="238.5" y="102.5">0.00%</text></g>
<g id="m86" transform="translate(271.5,0)"><text class="tp" y="-20.5"><tspan class="q">♩</tspan>=138</text><text class="mn" x="1" y="-8">86</text><use href="#h" class="G"/><text class="a" x="238.5" y="76.5">25</text><text class="b" x="238.5" y="89.5">81578</text><text class="c" x="238.5" y="102.5">0.00%</text></g>
<g id="m87" transform="translate(511.5,0)"><text class="tp" y="-20.5"><tspan class="q">♩</tspan>=134</text><text class="mn" x="1" y="-8">87</text><text class="a" x="238.5" y="76.5">0</text><text class="b" x="238.5" y="89.5">81578</text><text class="c" x="238.5" y="102.5">0.00%</text></g>
<g id="m88" transform="translate(751.5,0)"><text class="tp" y="-20.5"><tspan class="q">♩</tspan>=138</text><text class="mn" x="1" y="-8">88</text><text class="a" x="238.5" y="76.5">0</text><text class="b" x="238.5" y="89.5">81578</text><text class="c" x="238.5" y="102.5">0.00%</text></g>
<g class="ov"><rect class="ob" x="31.5" width="9" height="60"/></g>
</g>

<g id="row23" transform="translate(0,3307.5)">
<use href="#st1" x="31.5"/>
<g id="m89" transform="translate(31.5,0)"><text class="mn" x="1" y="-8">89</text><use href="#pM"/><text class="a" x="238.5" y="76.5">143</text><text class="b" x="238.5" y="89.5">82436</text><text class="c" x="238.5" y="102.5">0.00%</text></g>
</g>
</svg>
